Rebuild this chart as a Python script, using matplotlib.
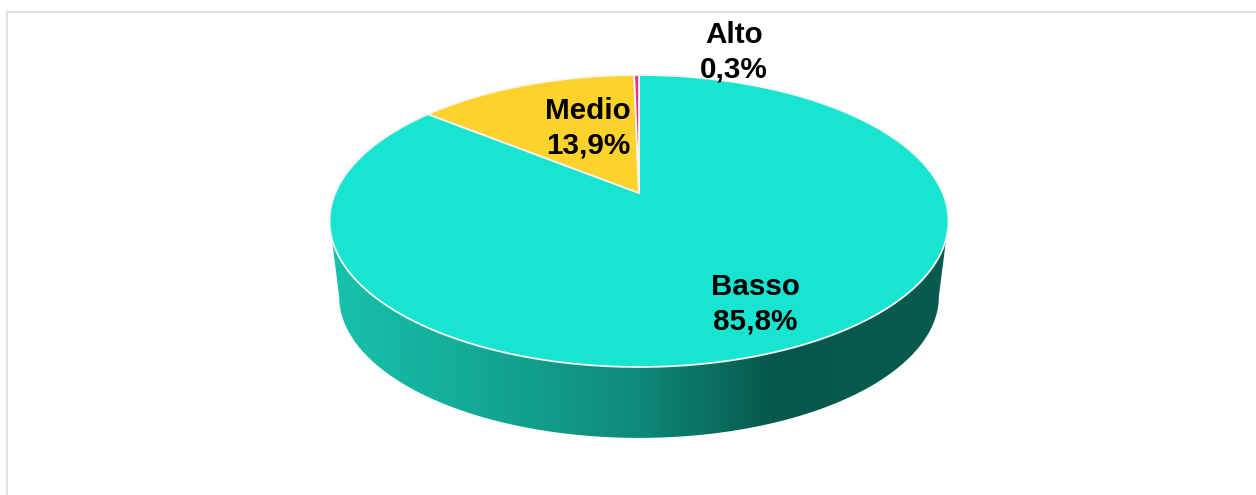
# -*- coding: utf-8 -*-
import numpy as np
import matplotlib
matplotlib.use('Agg')
import matplotlib.pyplot as plt
from matplotlib.colors import LinearSegmentedColormap
from matplotlib.patches import Polygon

plt.rcParams['font.family'] = ['Liberation Sans', 'DejaVu Sans']

# dati (in senso orario dalle ore 12)
categorie = ['Basso', 'Medio', 'Alto']
valori = [85.8, 13.9, 0.3]
colori = ['#17E5D1', '#FDD32B', '#EE2D8F']

# sfumatura del bordo laterale
stop_pos = [0.0, 0.2, 0.5, 0.72, 1.0]
stop_col = ['#17C2AC', '#14AE9A', '#0E8A78', '#07584C', '#0A5B4F']

fig = plt.figure(figsize=(12.56, 4.95), dpi=100)
ax = fig.add_axes([0, 0, 1, 1])
ax.set_xlim(0, 1256)
ax.set_ylim(495, 0)
ax.axis('off')

# prospettiva del disco
cx = 639
cy = 193
c = 0.1918
a = -103.6
k = 303.7


def disco(theta, sc=1.0, y0=cy):
    u = np.sin(theta)
    v = np.cos(theta)
    den = c * v + 1
    x = cx + sc * k * u / den
    y = y0 + sc * ((a * v + cy) / den - cy)
    return x, y


# angolo dei punti piu larghi dell'ellisse
t_w = np.arccos(-c)

# bordo laterale
sc_b = 0.969
y_b = 269.3
t = np.linspace(t_w, 2 * np.pi - t_w, 300)
x1, y1 = disco(t)
x2, y2 = disco(t, sc_b, y_b)
pts = np.column_stack([np.r_[x1, x2[::-1]], np.r_[y1, y2[::-1]]])
lato = Polygon(pts, closed=True, fc='none', ec='none', transform=ax.transData)
ax.add_patch(lato)

cmap = LinearSegmentedColormap.from_list('lato', list(zip(stop_pos, stop_col)))
img = ax.imshow(np.linspace(0, 1, 512)[None, :], cmap=cmap, aspect='auto',
                extent=[329, 949, 440, 220], zorder=1)
img.set_clip_path(lato)
ax.set_xlim(0, 1256)
ax.set_ylim(495, 0)

# spicchi
inizio = 0.0
for nome, val, col in zip(categorie, valori, colori):
    fine = inizio + val / sum(valori) * 2 * np.pi
    t = np.linspace(inizio, fine, 300)
    x, y = disco(t)
    ax.fill(np.r_[cx, x], np.r_[cy, y], fc=col, ec='#F4F4F0', lw=1.3, zorder=2,
            joinstyle='round')
    inizio = fine

# etichette
pos_testo = {'Basso': (755, 304), 'Medio': (588, 128), 'Alto': (734, 52)}
for nome, val in zip(categorie, valori):
    testo = nome + '\n' + f'{val:.1f}'.replace('.', ',') + '%'
    px, py = pos_testo[nome]
    ax.text(px, py, testo, ha='center', va='center', fontsize=21.3,
            fontweight='bold', color='black', linespacing=1.3, zorder=4)

# cornice
ax.plot([7, 7], [495, 12], color='#E2E2E2', lw=1.6, zorder=0)
ax.plot([7, 1256], [12, 12], color='#E2E2E2', lw=1.4, zorder=0)

fig.savefig('out.png', dpi=100)
